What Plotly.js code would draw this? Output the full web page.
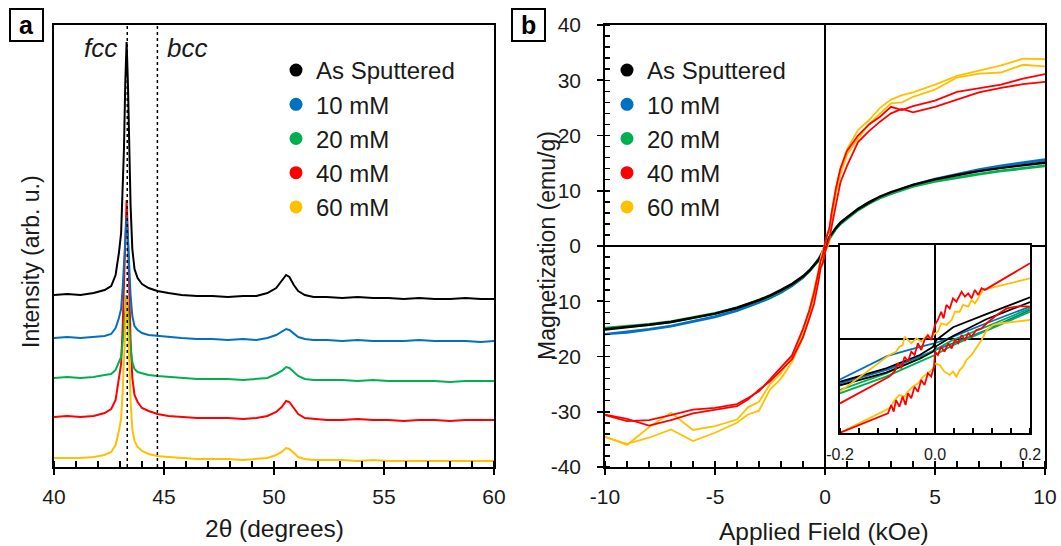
<!DOCTYPE html>
<html><head><meta charset="utf-8">
<script src="https://cdn.plot.ly/plotly-3.0.1.min.js"></script>
<style>body{margin:0;background:#fff}</style>
</head><body>
<div id="chart" style="width:1061px;height:546px"></div>
<script>
// ---------- Panel a: XRD ----------
const seriesNames = ['As Sputtered', '10 mM', '20 mM', '40 mM', '60 mM'];
const seriesColors = ['#000000', '#0070C0', '#00B050', '#FF0000', '#FFC000'];

const twoTheta = [40, 40.6, 41.2, 41.8, 42.3, 42.6, 42.8, 42.95, 43.05, 43.12, 43.18, 43.24, 43.30, 43.36, 43.42, 43.48, 43.56, 43.66, 43.8, 44.0, 44.3, 44.7, 45.2, 45.8, 46.5, 47.2, 47.9, 48.6, 49.2, 49.7, 50.1, 50.35, 50.55, 50.7, 50.9, 51.1, 51.4, 51.8, 52.4, 53.1, 53.8, 54.5, 55.2, 55.9, 56.6, 57.3, 58, 58.7, 59.4, 60];
const xrdAsSputtered = [172, 173, 172, 174, 177, 181, 192, 214, 234, 275, 318, 384, 425, 384, 322, 262, 218, 198, 189, 183, 179, 176, 174, 172, 171, 171, 170, 171, 171, 174, 179, 186, 192, 190, 182, 176, 172, 170, 170, 169, 170, 169, 169, 168, 169, 168, 168, 169, 168, 168];
const xrd10 = [129, 130, 129, 130, 131, 133, 139, 149, 158, 179, 199, 230, 250, 230, 200, 172, 151, 141, 137, 134, 132, 131, 130, 129, 128, 128, 127, 128, 127, 129, 132, 135, 138, 137, 133, 130, 128, 127, 127, 126, 127, 126, 126, 126, 127, 126, 126, 126, 125, 126];
const xrd20 = [89, 90, 89, 90, 92, 93, 97, 104, 110, 124, 138, 159, 172, 159, 138, 119, 105, 98, 95, 94, 92, 91, 90, 89, 88, 88, 88, 87, 88, 89, 93, 96, 100, 99, 95, 91, 88, 87, 87, 87, 86, 87, 86, 86, 86, 86, 85, 86, 86, 86];
const xrd40 = [50, 51, 50, 51, 54, 58, 67, 86, 103, 139, 176, 232, 267, 232, 178, 127, 89, 72, 65, 59, 56, 53, 51, 50, 49, 49, 49, 48, 49, 51, 55, 60, 66, 65, 59, 53, 49, 48, 47, 47, 48, 47, 47, 46, 47, 47, 46, 47, 47, 47];
const xrd60 = [9, 9, 9, 10, 12, 15, 22, 36, 48, 75, 102, 144, 170, 144, 104, 66, 38, 26, 20, 16, 13, 11, 10, 9, 8, 8, 8, 7, 8, 9, 12, 15, 19, 18, 14, 10, 8, 7, 7, 7, 6, 7, 6, 6, 6, 6, 6, 6, 6, 6];
const fccPos = 43.33, bccPos = 44.7;
const tickA = [40, 45, 50, 55, 60];
const tickAText = ['40', '45', '50', '55', '60'];

// ---------- Panel b: magnetisation loops ----------
const fieldGrid = [10, 9, 8, 7, 6, 5, 4, 3.5, 3, 2.5, 2, 1.5, 1, 0.7, 0.5, 0.3, 0.2, 0.1, 0, -0.1, -0.2, -0.3, -0.5, -0.7, -1, -1.5, -2, -2.5, -3, -3.5, -4, -5, -6, -7, -8, -9, -10];
const magAsA = [15.2, 14.7, 14.2, 13.6, 12.9, 12.1, 11.1, 10.5, 9.8, 9.0, 8.0, 6.8, 5.3, 4.3, 3.4, 2.4, 1.7, 1.0, 0.0, -0.9, -1.8, -2.4, -3.4, -4.3, -5.4, -6.8, -7.9, -8.9, -9.7, -10.4, -11.1, -12.2, -13.0, -13.7, -14.2, -14.6, -15.0];
const magAsB = [15.0, 14.6, 14.1, 13.5, 12.8, 12.0, 11.0, 10.4, 9.7, 8.9, 7.8, 6.6, 5.1, 4.1, 3.2, 2.2, 1.6, 0.6, -0.3, -1.2, -2.0, -2.6, -3.6, -4.5, -5.6, -7.0, -8.1, -9.1, -9.9, -10.6, -11.3, -12.3, -13.1, -13.8, -14.3, -14.7, -15.2];
const mag10A = [15.7, 15.2, 14.6, 13.9, 13.1, 12.2, 11.1, 10.4, 9.7, 8.9, 7.9, 6.7, 5.2, 4.2, 3.3, 2.1, 1.4, 0.7, -0.1, -0.9, -1.7, -2.3, -3.4, -4.4, -5.6, -7.1, -8.3, -9.3, -10.1, -10.9, -11.6, -12.7, -13.6, -14.4, -15.0, -15.5, -15.9];
const mag10B = [15.5, 15.0, 14.4, 13.7, 12.9, 12.0, 10.9, 10.2, 9.5, 8.7, 7.7, 6.5, 5.0, 4.0, 3.1, 1.9, 1.2, 0.4, -0.4, -1.2, -1.9, -2.5, -3.6, -4.6, -5.8, -7.3, -8.5, -9.5, -10.3, -11.1, -11.8, -12.9, -13.8, -14.6, -15.2, -15.7, -16.0];
const mag20A = [14.6, 14.2, 13.7, 13.1, 12.5, 11.8, 10.9, 10.3, 9.6, 8.8, 7.8, 6.6, 5.1, 4.1, 3.2, 2.0, 1.3, 0.5, -0.3, -1.2, -2.2, -2.6, -3.5, -4.4, -5.5, -6.9, -8.0, -9.0, -9.8, -10.5, -11.1, -12.1, -12.9, -13.6, -14.1, -14.5, -14.8];
const mag20B = [14.4, 14.0, 13.5, 12.9, 12.3, 11.6, 10.7, 10.1, 9.4, 8.6, 7.6, 6.4, 4.9, 3.9, 3.0, 1.8, 1.2, 0.3, -0.6, -1.4, -2.3, -2.8, -3.7, -4.6, -5.7, -7.1, -8.2, -9.2, -10.0, -10.7, -11.3, -12.3, -13.1, -13.8, -14.3, -14.7, -15.0];
const mag40A = [31.1, 30.3, 29.2, 28.6, 27.9, 26.3, 25.3, 24.6, 25.2, 23.4, 22.0, 20.0, 17.2, 14.0, 10.5, 6.0, 3.3, 2.0, 0.6, -1.6, -2.7, -4.8, -8.5, -11.5, -15.0, -19.8, -22.0, -24.0, -26.3, -27.5, -28.6, -29.3, -29.6, -30.6, -31.5, -31.7, -30.6];
const mag40B = [29.7, 29.3, 28.6, 27.8, 26.5, 25.2, 24.2, 24.8, 24.0, 22.5, 20.8, 18.8, 14.5, 11.5, 7.5, 3.8, 1.4, 0.2, -1.2, -3.1, -4.0, -6.5, -10.5, -13.0, -16.5, -20.5, -22.5, -24.5, -26.0, -27.8, -29.0, -29.6, -30.3, -31.5, -32.5, -31.3, -30.5];
const mag60A = [33.8, 33.9, 32.7, 31.8, 30.8, 29.2, 27.8, 27.3, 26.5, 25.0, 22.8, 21.0, 17.5, 14.0, 10.5, 6.0, 2.6, 2.1, 0.2, -0.7, -2.2, -4.5, -8.0, -11.5, -15.5, -20.0, -23.0, -25.0, -28.2, -29.2, -31.4, -32.6, -33.3, -30.2, -32.8, -36.0, -34.5];
const mag60B = [32.5, 32.8, 31.4, 31.2, 30.5, 28.3, 27.0, 26.0, 25.8, 24.0, 22.0, 19.5, 16.5, 13.0, 9.5, 5.0, 0.8, -0.3, -1.0, -2.9, -4.0, -5.8, -9.0, -12.5, -16.5, -21.0, -24.0, -26.0, -29.8, -30.5, -32.0, -33.8, -35.3, -33.2, -34.7, -35.8, -34.6];
const tickBX = [-10, -5, 0, 5, 10];
const tickBXText = ['-10', '-5', '0', '5', '10'];
const tickBY = [-40, -30, -20, -10, 0, 10, 20, 30, 40];
const tickBYText = ['-40', '-30', '-20', '-10', '0', '10', '20', '30', '40'];

// ---------- Inset (low field) ----------
const inAsH = [-0.2, -0.103, -0.032, -0.004, 0.003, 0.038, 0.108, 0.2];
const inAsA = [-1.82, -1.25, -0.68, -0.33, -0.04, 0.50, 1.06, 1.77];
const inAsB = [-1.97, -1.43, -0.84, -0.54, -0.30, 0.13, 0.84, 1.57];
const in10H = [-0.2, -0.1, -0.032, 0, 0.038, 0.108, 0.2];
const in10A = [-1.72, -0.72, -0.33, -0.18, 0.10, 0.67, 1.38];
const in10B = [-1.89, -1.30, -0.75, -0.47, -0.18, 0.38, 1.23];
const in20H = [-0.2, -0.103, -0.032, 0, 0.038, 0.108, 0.2];
const in20A = [-2.17, -1.46, -0.82, -0.47, -0.04, 0.52, 1.30];
const in20B = [-2.31, -1.60, -0.96, -0.68, -0.26, 0.35, 1.16];
const in40AH = [-0.2, -0.096, -0.085, -0.078, -0.071, -0.064, -0.057, -0.05, -0.043, -0.036, -0.029, -0.022, -0.015, -0.008, 0, 0.006, 0.013, 0.018, 0.024, 0.031, 0.038, 0.045, 0.056, 0.063, 0.070, 0.077, 0.084, 0.091, 0.098, 0.105, 0.2];
const in40A = [-2.74, -1.60, -1.38, -1.03, -1.25, -0.75, -0.96, -0.54, -0.68, -0.18, -0.47, -0.04, 0.17, -0.04, 0.60, 0.81, 1.16, 0.88, 1.45, 1.30, 1.73, 1.59, 2.01, 1.80, 1.94, 1.73, 2.09, 1.87, 2.16, 2.09, 3.22];
const in40BH = [-0.2, -0.099, -0.092, -0.087, -0.082, -0.075, -0.068, -0.062, -0.057, -0.05, -0.043, -0.036, -0.029, -0.022, -0.015, -0.008, -0.002, 0, 0.006, 0.013, 0.020, 0.028, 0.035, 0.042, 0.049, 0.056, 0.063, 0.070, 0.077, 0.087, 0.098, 0.109, 0.130, 0.151, 0.179, 0.2];
const in40B = [-3.99, -3.16, -2.81, -3.09, -2.60, -2.88, -2.45, -2.81, -2.31, -2.52, -2.03, -2.24, -1.74, -1.96, -1.46, -1.60, -1.18, -0.54, -0.68, -0.33, -0.54, -0.18, -0.40, -0.04, -0.18, 0.17, -0.04, 0.24, 0.10, 0.38, 0.45, 0.67, 1.02, 1.30, 1.40, 1.38];
const in60AH = [0.2, 0.101, 0.091, 0.084, 0.077, 0.070, 0.059, 0.052, 0.042, 0.035, 0.024, 0.013, 0.006, 0, -0.008, -0.018, -0.029, -0.039, -0.05, -0.057, -0.064, -0.068, -0.075, -0.082, -0.096, -0.2];
const in60A = [2.58, 2.09, 1.73, 1.52, 1.66, 1.38, 1.45, 1.16, 1.16, 0.81, 0.60, 0.67, 0.31, 0.24, 0.03, 0.10, -0.11, 0.03, -0.18, -0.04, 0.10, -0.26, -0.33, -0.54, -0.68, -2.24];
const in60BH = [-0.2, -0.096, -0.085, -0.075, -0.064, -0.057, -0.047, -0.036, -0.025, -0.015, -0.004, 0, 0.010, 0.020, 0.031, 0.038, 0.045, 0.052, 0.059, 0.066, 0.077, 0.087, 0.098, 0.109, 0.123, 0.140, 0.2];
const in60B = [-3.99, -2.95, -2.60, -2.38, -2.45, -2.24, -2.03, -1.89, -1.60, -1.46, -1.25, -1.04, -1.11, -1.39, -1.53, -1.39, -1.60, -1.32, -1.18, -0.89, -0.68, -0.40, -0.04, 0.38, 0.60, 0.67, 0.81];
const tickIn = [-0.2, 0, 0.2];
const tickInText = ['-0.2', '0.0', '0.2'];

// ---------- build ----------
const W = 1061, H = 546;
const px = v => v / W;
const py = v => (H - v) / H;
const FONT = 'Liberation Sans, Arial, Helvetica, sans-serif';
const TXT = '#1a1a1a';

function line(x, y, color, xa, ya, w) {
  return {x: x, y: y, type: 'scatter', mode: 'lines', line: {color: color, width: w},
          xaxis: xa, yaxis: ya, showlegend: false, hoverinfo: 'skip'};
}
const [cAs, c10, c20, c40, c60] = seriesColors;
const traces = [];
seriesNames.forEach((n, i) => traces.push({x: [null], y: [null], type: 'scatter', mode: 'markers',
  marker: {color: seriesColors[i], size: 13}, name: n, legend: 'legend', xaxis: 'x', yaxis: 'y', hoverinfo: 'skip'}));
seriesNames.forEach((n, i) => traces.push({x: [null], y: [null], type: 'scatter', mode: 'markers',
  marker: {color: seriesColors[i], size: 13}, name: n, legend: 'legend2', xaxis: 'x2', yaxis: 'y2', hoverinfo: 'skip'}));
traces.push(line(twoTheta, xrdAsSputtered, cAs, 'x', 'y', 2));
traces.push(line(twoTheta, xrd40, c40, 'x', 'y', 2));
traces.push(line(twoTheta, xrd10, c10, 'x', 'y', 2));
traces.push(line(twoTheta, xrd20, c20, 'x', 'y', 2));
traces.push(line(twoTheta, xrd60, c60, 'x', 'y', 2));
[[mag10A, c10], [mag10B, c10], [mag20A, c20], [mag20B, c20], [magAsA, cAs], [magAsB, cAs],
 [mag60A, c60], [mag60B, c60], [mag40A, c40], [mag40B, c40]].forEach(p => traces.push(line(fieldGrid, p[0], p[1], 'x2', 'y2', 1.8)));
[[in10H, in10A, c10], [in10H, in10B, c10], [in20H, in20A, c20], [in20H, in20B, c20],
 [inAsH, inAsA, cAs], [inAsH, inAsB, cAs], [in60AH, in60A, c60], [in60BH, in60B, c60],
 [in40AH, in40A, c40], [in40BH, in40B, c40]].forEach(p => traces.push(line(p[0], p[1], p[2], 'x3', 'y3', 1.8)));

const axBase = {showline: true, linecolor: '#000', linewidth: 1.8, mirror: true, showgrid: false,
  tickcolor: '#000', tickwidth: 1.8, tickfont: {size: 21, color: TXT, family: FONT}};

function note(text, x, y, size, extra) {
  return Object.assign({text: text, xref: 'paper', yref: 'paper', x: px(x), y: py(y), xanchor: 'center', yanchor: 'middle',
    showarrow: false, font: {size: size, color: TXT, family: FONT}}, extra || {});
}

const layout = {
  width: W, height: H, margin: {l: 0, r: 0, t: 0, b: 0},
  paper_bgcolor: '#fff', plot_bgcolor: '#fff',
  font: {family: FONT, color: TXT, size: 21},
  showlegend: true,
  xaxis: Object.assign({}, axBase, {domain: [px(54), px(494)], range: [40, 60], anchor: 'y', zeroline: false,
    tickmode: 'array', tickvals: tickA, ticktext: tickAText, ticks: 'outside', ticklen: 6, ticklabelstandoff: 4,
    minor: {tickmode: 'linear', tick0: 40, dtick: 1, ticks: 'inside', ticklen: 6, tickwidth: 1.5, tickcolor: '#000', showgrid: false}}),
  yaxis: Object.assign({}, axBase, {domain: [py(467), py(25)], range: [0, 442], anchor: 'x', zeroline: false,
    ticks: '', showticklabels: false}),
  xaxis2: Object.assign({}, axBase, {domain: [px(605), px(1045)], range: [-10, 10], anchor: 'y2',
    zeroline: true, zerolinecolor: '#000', zerolinewidth: 1.6,
    tickmode: 'array', tickvals: tickBX, ticktext: tickBXText, ticks: 'outside', ticklen: 6, ticklabelstandoff: 4,
    minor: {tickmode: 'linear', tick0: -10, dtick: 1, ticks: 'inside', ticklen: 6, tickwidth: 1.5, tickcolor: '#000', showgrid: false}}),
  yaxis2: Object.assign({}, axBase, {domain: [py(467), py(25)], range: [-40, 40], anchor: 'x2',
    zeroline: true, zerolinecolor: '#000', zerolinewidth: 1.6,
    tickmode: 'array', tickvals: tickBY, ticktext: tickBYText, ticks: 'outside', ticklen: 6, ticklabelstandoff: 12,
    minor: {tickmode: 'linear', tick0: -40, dtick: 2, ticks: 'inside', ticklen: 5, tickwidth: 1.5, tickcolor: '#000', showgrid: false}}),
  xaxis3: Object.assign({}, axBase, {domain: [px(840), px(1030)], range: [-0.2, 0.2], anchor: 'y3',
    zeroline: true, zerolinecolor: '#000', zerolinewidth: 1.6,
    tickmode: 'array', tickvals: tickIn, ticktext: tickInText, ticks: '', ticklabelstandoff: 6,
    tickfont: {size: 16, color: TXT, family: FONT},
    minor: {tickmode: 'linear', tick0: -0.2, dtick: 0.04, ticks: 'inside', ticklen: 5, tickwidth: 1.5, tickcolor: '#000', showgrid: false}}),
  yaxis3: Object.assign({}, axBase, {domain: [py(433), py(245)], range: [-4, 4], anchor: 'x3',
    zeroline: true, zerolinecolor: '#000', zerolinewidth: 1.6, ticks: '', showticklabels: false}),
  legend: {x: px(276), xanchor: 'left', y: py(48), yanchor: 'top', bgcolor: 'rgba(0,0,0,0)',
    font: {size: 24, color: TXT, family: FONT}, tracegroupgap: 0},
  legend2: {x: px(607), xanchor: 'left', y: py(48), yanchor: 'top', bgcolor: 'rgba(0,0,0,0)',
    font: {size: 24, color: TXT, family: FONT}, tracegroupgap: 0},
  shapes: [
    {type: 'line', xref: 'x', yref: 'y domain', x0: fccPos, x1: fccPos, y0: 0, y1: 1, line: {color: '#000', width: 1.5, dash: 'dot'}},
    {type: 'line', xref: 'x', yref: 'y domain', x0: bccPos, x1: bccPos, y0: 0, y1: 1, line: {color: '#000', width: 1.5, dash: 'dot'}},
    {type: 'rect', xref: 'paper', yref: 'paper', x0: px(10), x1: px(43), y0: py(41), y1: py(9), line: {color: '#000', width: 2}},
    {type: 'rect', xref: 'paper', yref: 'paper', x0: px(512), x1: px(545), y0: py(41), y1: py(9), line: {color: '#000', width: 2}}
  ],
  annotations: [
    note('<b>a</b>', 26.5, 25, 25, {font: {size: 25, color: '#000', family: FONT}}),
    note('<b>b</b>', 528.5, 25, 25, {font: {size: 25, color: '#000', family: FONT}}),
    {text: '<i>fcc</i>', xref: 'x', yref: 'paper', x: fccPos, y: py(48), xanchor: 'right', yanchor: 'middle', xshift: -8,
      showarrow: false, font: {size: 26, color: TXT, family: FONT}},
    {text: '<i>bcc</i>', xref: 'x', yref: 'paper', x: bccPos, y: py(48), xanchor: 'left', yanchor: 'middle', xshift: 8,
      showarrow: false, font: {size: 26, color: TXT, family: FONT}},
    note('Intensity (arb. u.)', 31, 262, 23, {textangle: -90}),
    note('2θ (degrees)', 274, 528, 24.5),
    note('Magnetization (emu/g)', 547, 246, 23, {textangle: -90}),
    note('Applied Field (kOe)', 824, 531, 24.5)
  ]
};

Plotly.newPlot('chart', traces, layout, {displayModeBar: false, staticPlot: true});
</script>
</body></html>
